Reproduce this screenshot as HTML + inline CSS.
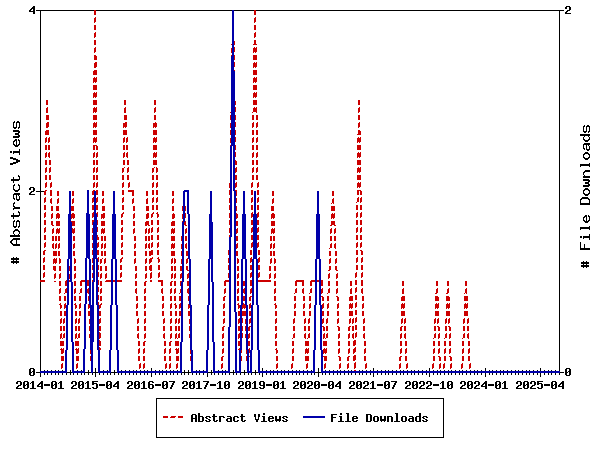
<!DOCTYPE html>
<html><head><meta charset="utf-8"><style>
html,body{margin:0;padding:0;background:#fff;width:600px;height:450px;overflow:hidden}
svg{display:block}
</style></head><body><svg width="600" height="450" viewBox="0 0 600 450" shape-rendering="crispEdges"><path d="M33 6h2v1h-2zM566 6h4v1h-4zM32 7h3v1h-3zM31 8h4v1h-4zM565 7h2v2h-2zM30 9h2v1h-2zM569 7h2v3h-2zM29 10h2v1h-2zM33 9h2v2h-2zM36 10h58v1h-58zM96 10h136v1h-136zM234 10h20v1h-20zM256 10h308v1h-308zM567 10h3v1h-3zM29 11h6v1h-6zM566 11h2v1h-2zM565 12h2v1h-2zM33 12h2v2h-2zM565 13h6v1h-6zM14 121h1v1h-1zM17 121h2v1h-2zM13 122h2v1h-2zM16 122h4v1h-4zM584 125h1v1h-1zM587 125h2v1h-2zM13 123h1v4h-1zM16 123h1v4h-1zM19 123h1v4h-1zM583 126h2v1h-2zM586 126h4v1h-4zM13 127h4v1h-4zM18 127h2v1h-2zM14 128h2v1h-2zM18 128h1v1h-1zM13 130h6v1h-6zM583 127h1v4h-1zM586 127h1v4h-1zM589 127h1v4h-1zM13 131h7v1h-7zM583 131h4v1h-4zM588 131h2v1h-2zM18 132h2v1h-2zM584 132h2v1h-2zM588 132h1v1h-1zM15 133h4v2h-4zM18 135h2v1h-2zM580 134h10v2h-10zM13 136h7v1h-7zM584 136h1v1h-1zM588 136h1v1h-1zM13 137h6v1h-6zM583 137h1v2h-1zM589 137h1v2h-1zM15 139h2v1h-2zM18 139h1v1h-1zM583 139h2v1h-2zM588 139h2v1h-2zM14 140h3v1h-3zM18 140h2v1h-2zM584 140h5v1h-5zM13 141h2v1h-2zM585 141h3v1h-3zM13 142h1v2h-1zM19 141h1v3h-1zM584 143h6v1h-6zM13 144h2v1h-2zM16 141h1v4h-1zM18 144h2v1h-2zM583 144h7v1h-7zM14 145h5v1h-5zM588 145h1v1h-1zM15 146h3v1h-3zM583 145h1v3h-1zM583 148h2v1h-2zM586 145h1v4h-1zM589 146h1v3h-1zM584 149h1v1h-1zM586 149h4v1h-4zM19 149h1v2h-1zM587 150h2v1h-2zM10 151h2v2h-2zM13 151h7v2h-7zM585 152h3v1h-3zM13 153h1v1h-1zM584 153h5v1h-5zM19 153h1v2h-1zM583 154h2v1h-2zM588 154h2v1h-2zM583 155h1v2h-1zM589 155h1v2h-1zM10 157h3v1h-3zM583 157h2v1h-2zM588 157h2v1h-2zM10 158h6v1h-6zM584 158h5v1h-5zM13 159h5v1h-5zM585 159h3v1h-3zM16 160h4v2h-4zM13 162h5v1h-5zM10 163h6v1h-6zM589 163h1v1h-1zM10 164h3v1h-3zM580 164h10v2h-10zM580 166h1v1h-1zM589 166h1v1h-1zM585 170h5v1h-5zM584 171h6v1h-6zM583 172h2v1h-2zM583 173h1v2h-1zM18 175h1v1h-1zM584 175h1v1h-1zM18 176h2v1h-2zM583 176h7v2h-7zM13 177h1v2h-1zM19 177h1v2h-1zM11 179h9v1h-9zM583 179h6v1h-6zM11 180h8v1h-8zM583 180h7v1h-7zM588 181h2v1h-2zM13 181h1v2h-1zM585 182h4v2h-4zM14 184h1v1h-1zM18 184h1v1h-1zM588 184h2v1h-2zM13 185h2v1h-2zM18 185h2v1h-2zM583 185h7v1h-7zM583 186h6v1h-6zM30 187h4v1h-4zM13 186h1v3h-1zM19 186h1v3h-1zM585 188h3v1h-3zM13 189h2v1h-2zM18 189h2v1h-2zM29 188h2v2h-2zM584 189h5v1h-5zM14 190h5v1h-5zM33 188h2v3h-2zM40 11h1v180h-1zM583 190h2v1h-2zM588 190h2v1h-2zM15 191h3v1h-3zM31 191h3v1h-3zM36 191h8v1h-8zM30 192h2v1h-2zM583 191h1v2h-1zM589 191h1v2h-1zM14 193h6v1h-6zM29 193h2v1h-2zM583 193h2v1h-2zM588 193h2v1h-2zM13 194h7v1h-7zM29 194h6v1h-6zM584 194h5v1h-5zM18 195h1v1h-1zM585 195h3v1h-3zM13 195h1v3h-1zM582 197h6v1h-6zM13 198h2v1h-2zM16 195h1v4h-1zM19 196h1v3h-1zM581 198h8v1h-8zM14 199h1v1h-1zM16 199h4v1h-4zM580 199h2v1h-2zM588 199h2v1h-2zM17 200h2v1h-2zM14 202h1v1h-1zM580 200h1v3h-1zM589 200h1v3h-1zM13 203h2v1h-2zM580 203h10v2h-10zM13 204h1v2h-1zM13 206h2v1h-2zM14 207h6v1h-6zM13 208h7v1h-7zM13 209h1v1h-1zM18 211h1v1h-1zM18 212h2v1h-2zM13 213h1v2h-1zM19 213h1v2h-1zM11 215h9v1h-9zM585 215h2v1h-2zM588 215h1v1h-1zM11 216h8v1h-8zM584 216h3v1h-3zM588 216h2v1h-2zM583 217h2v1h-2zM13 217h1v2h-1zM583 218h1v2h-1zM589 217h1v3h-1zM14 220h1v1h-1zM17 220h2v1h-2zM583 220h2v1h-2zM586 217h1v4h-1zM588 220h2v1h-2zM13 221h2v1h-2zM16 221h4v1h-4zM584 221h5v1h-5zM585 222h3v1h-3zM13 222h1v4h-1zM16 222h1v4h-1zM19 222h1v4h-1zM13 226h4v1h-4zM18 226h2v1h-2zM589 226h1v1h-1zM14 227h2v1h-2zM18 227h1v1h-1zM580 227h10v2h-10zM15 229h3v1h-3zM580 229h1v1h-1zM589 229h1v1h-1zM14 230h5v1h-5zM13 231h2v1h-2zM18 231h2v1h-2zM13 232h1v2h-1zM19 232h1v2h-1zM14 234h1v1h-1zM18 234h1v1h-1zM589 234h1v2h-1zM10 235h10v2h-10zM580 236h2v2h-2zM583 236h7v2h-7zM13 238h7v1h-7zM583 238h1v1h-1zM12 239h8v1h-8zM589 238h1v2h-1zM11 240h2v1h-2zM10 241h2v2h-2zM11 243h2v1h-2zM16 240h1v4h-1zM12 244h8v1h-8zM13 245h7v1h-7zM580 242h1v6h-1zM584 244h1v4h-1zM580 248h10v2h-10zM13 257h1v1h-1zM16 257h1v1h-1zM11 258h8v2h-8zM13 260h1v1h-1zM16 260h1v1h-1zM583 261h1v1h-1zM586 261h1v1h-1zM11 261h8v2h-8zM13 263h1v1h-1zM16 263h1v1h-1zM581 262h8v2h-8zM583 264h1v1h-1zM586 264h1v1h-1zM581 265h8v2h-8zM583 267h1v1h-1zM586 267h1v1h-1zM40 192h1v88h-1zM30 368h4v1h-4zM566 368h4v1h-4zM33 369h2v2h-2zM40 282h1v89h-1zM44 370h1v1h-1zM47 370h1v1h-1zM51 370h1v1h-1zM55 370h1v1h-1zM58 370h1v1h-1zM62 370h1v1h-1zM77 370h1v1h-1zM81 370h1v1h-1zM103 370h1v1h-1zM107 370h1v1h-1zM121 370h1v1h-1zM125 370h1v1h-1zM129 370h1v1h-1zM133 370h1v1h-1zM136 370h1v1h-1zM140 370h1v1h-1zM144 370h1v1h-1zM147 370h1v1h-1zM151 368h1v3h-1zM155 370h1v1h-1zM159 370h1v1h-1zM162 370h1v1h-1zM166 370h1v1h-1zM170 370h1v1h-1zM173 370h1v1h-1zM177 370h1v1h-1zM196 370h1v1h-1zM199 370h1v1h-1zM203 370h1v1h-1zM218 370h1v1h-1zM222 370h1v1h-1zM225 370h1v1h-1zM262 368h1v3h-1zM266 370h1v1h-1zM270 370h1v1h-1zM273 370h1v1h-1zM277 370h1v1h-1zM281 370h1v1h-1zM284 370h1v1h-1zM288 370h1v1h-1zM292 370h1v1h-1zM296 370h1v1h-1zM299 370h1v1h-1zM303 370h1v1h-1zM307 370h1v1h-1zM311 370h1v1h-1zM325 370h1v1h-1zM329 370h1v1h-1zM333 370h1v1h-1zM337 370h1v1h-1zM340 370h1v1h-1zM344 370h1v1h-1zM348 370h1v1h-1zM351 370h1v1h-1zM359 370h1v1h-1zM362 370h1v1h-1zM366 370h1v1h-1zM370 370h1v1h-1zM373 368h1v3h-1zM377 370h1v1h-1zM381 370h1v1h-1zM385 370h1v1h-1zM388 370h1v1h-1zM392 370h1v1h-1zM396 370h1v1h-1zM400 370h1v1h-1zM403 370h1v1h-1zM407 370h1v1h-1zM411 370h1v1h-1zM414 370h1v1h-1zM418 370h1v1h-1zM422 370h1v1h-1zM426 370h1v1h-1zM429 368h1v3h-1zM433 370h1v1h-1zM437 370h1v1h-1zM440 370h1v1h-1zM444 370h1v1h-1zM448 370h1v1h-1zM451 370h1v1h-1zM455 370h1v1h-1zM459 370h1v1h-1zM462 370h1v1h-1zM466 370h1v1h-1zM470 370h1v1h-1zM474 370h1v1h-1zM477 370h1v1h-1zM481 370h1v1h-1zM485 368h1v3h-1zM489 370h1v1h-1zM492 370h1v1h-1zM496 370h1v1h-1zM500 370h1v1h-1zM503 370h1v1h-1zM507 370h1v1h-1zM511 370h1v1h-1zM515 370h1v1h-1zM518 370h1v1h-1zM522 370h1v1h-1zM526 370h1v1h-1zM529 370h1v1h-1zM533 370h1v1h-1zM537 370h1v1h-1zM540 368h1v3h-1zM544 370h1v1h-1zM548 370h1v1h-1zM551 370h1v1h-1zM555 370h1v1h-1zM559 11h1v360h-1zM569 369h2v2h-2zM29 369h2v3h-2zM32 371h3v1h-3zM70 370h1v2h-1zM88 370h1v2h-1zM95 368h1v4h-1zM114 370h1v2h-1zM184 370h1v2h-1zM188 370h1v2h-1zM211 370h1v2h-1zM233 370h1v2h-1zM244 370h1v2h-1zM255 370h1v2h-1zM318 368h1v4h-1zM565 369h2v3h-2zM568 371h3v1h-3zM29 372h3v1h-3zM36 372h4v1h-4zM67 372h5v1h-5zM85 372h6v1h-6zM93 372h5v1h-5zM111 372h6v1h-6zM182 372h9v1h-9zM208 372h5v1h-5zM230 372h5v1h-5zM241 372h6v1h-6zM252 372h6v1h-6zM315 372h6v1h-6zM560 372h4v1h-4zM565 372h3v1h-3zM29 373h2v2h-2zM33 372h2v3h-2zM44 373h1v2h-1zM47 373h1v2h-1zM51 373h1v2h-1zM55 373h1v2h-1zM58 373h1v2h-1zM62 373h1v2h-1zM66 373h1v2h-1zM70 373h1v2h-1zM73 373h1v2h-1zM77 373h1v2h-1zM81 373h1v2h-1zM84 373h1v2h-1zM88 373h1v2h-1zM92 373h1v2h-1zM99 373h1v2h-1zM103 373h1v2h-1zM107 373h1v2h-1zM110 373h1v2h-1zM114 373h1v2h-1zM118 373h1v2h-1zM121 373h1v2h-1zM125 373h1v2h-1zM129 373h1v2h-1zM133 373h1v2h-1zM136 373h1v2h-1zM140 373h1v2h-1zM144 373h1v2h-1zM147 373h1v2h-1zM155 373h1v2h-1zM159 373h1v2h-1zM162 373h1v2h-1zM166 373h1v2h-1zM170 373h1v2h-1zM173 373h1v2h-1zM177 373h1v2h-1zM181 373h1v2h-1zM184 373h1v2h-1zM188 373h1v2h-1zM192 373h1v2h-1zM196 373h1v2h-1zM199 373h1v2h-1zM203 373h1v2h-1zM211 373h1v2h-1zM214 373h1v2h-1zM218 373h1v2h-1zM222 373h1v2h-1zM225 373h1v2h-1zM229 373h1v2h-1zM233 373h1v2h-1zM236 373h1v2h-1zM240 373h1v2h-1zM244 373h1v2h-1zM248 373h1v2h-1zM251 373h1v2h-1zM255 373h1v2h-1zM259 373h1v2h-1zM266 373h1v2h-1zM270 373h1v2h-1zM273 373h1v2h-1zM277 373h1v2h-1zM281 373h1v2h-1zM284 373h1v2h-1zM288 373h1v2h-1zM292 373h1v2h-1zM296 373h1v2h-1zM299 373h1v2h-1zM303 373h1v2h-1zM307 373h1v2h-1zM311 373h1v2h-1zM314 373h1v2h-1zM322 373h1v2h-1zM325 373h1v2h-1zM329 373h1v2h-1zM333 373h1v2h-1zM337 373h1v2h-1zM340 373h1v2h-1zM344 373h1v2h-1zM348 373h1v2h-1zM351 373h1v2h-1zM355 373h1v2h-1zM359 373h1v2h-1zM362 373h1v2h-1zM366 373h1v2h-1zM370 373h1v2h-1zM377 373h1v2h-1zM381 373h1v2h-1zM385 373h1v2h-1zM388 373h1v2h-1zM392 373h1v2h-1zM396 373h1v2h-1zM400 373h1v2h-1zM403 373h1v2h-1zM407 373h1v2h-1zM411 373h1v2h-1zM414 373h1v2h-1zM418 373h1v2h-1zM422 373h1v2h-1zM426 373h1v2h-1zM433 373h1v2h-1zM437 373h1v2h-1zM440 373h1v2h-1zM444 373h1v2h-1zM448 373h1v2h-1zM451 373h1v2h-1zM455 373h1v2h-1zM459 373h1v2h-1zM462 373h1v2h-1zM466 373h1v2h-1zM470 373h1v2h-1zM474 373h1v2h-1zM477 373h1v2h-1zM481 373h1v2h-1zM489 373h1v2h-1zM492 373h1v2h-1zM496 373h1v2h-1zM500 373h1v2h-1zM503 373h1v2h-1zM507 373h1v2h-1zM511 373h1v2h-1zM515 373h1v2h-1zM518 373h1v2h-1zM522 373h1v2h-1zM526 373h1v2h-1zM529 373h1v2h-1zM533 373h1v2h-1zM537 373h1v2h-1zM544 373h1v2h-1zM548 373h1v2h-1zM551 373h1v2h-1zM555 373h1v2h-1zM559 373h1v2h-1zM565 373h2v2h-2zM569 372h2v3h-2zM30 375h4v1h-4zM566 375h4v1h-4zM40 373h1v4h-1zM95 373h1v4h-1zM151 373h1v4h-1zM207 373h1v4h-1zM262 373h1v4h-1zM318 373h1v4h-1zM373 373h1v4h-1zM429 373h1v4h-1zM485 373h1v4h-1zM540 373h1v4h-1zM17 381h4v1h-4zM24 381h4v1h-4zM32 381h2v1h-2zM41 381h2v1h-2zM52 381h4v1h-4zM60 381h2v1h-2zM72 381h4v1h-4zM79 381h4v1h-4zM87 381h2v1h-2zM92 381h6v1h-6zM107 381h4v1h-4zM117 381h2v1h-2zM128 381h4v1h-4zM135 381h4v1h-4zM143 381h2v1h-2zM149 381h4v1h-4zM163 381h4v1h-4zM169 381h6v1h-6zM183 381h4v1h-4zM190 381h4v1h-4zM198 381h2v1h-2zM203 381h6v1h-6zM219 381h2v1h-2zM225 381h4v1h-4zM239 381h4v1h-4zM246 381h4v1h-4zM254 381h2v1h-2zM260 381h4v1h-4zM274 381h4v1h-4zM282 381h2v1h-2zM294 381h4v1h-4zM301 381h4v1h-4zM308 381h4v1h-4zM315 381h4v1h-4zM329 381h4v1h-4zM339 381h2v1h-2zM350 381h4v1h-4zM357 381h4v1h-4zM364 381h4v1h-4zM372 381h2v1h-2zM385 381h4v1h-4zM391 381h6v1h-6zM406 381h4v1h-4zM413 381h4v1h-4zM420 381h4v1h-4zM427 381h4v1h-4zM442 381h2v1h-2zM448 381h4v1h-4zM461 381h4v1h-4zM468 381h4v1h-4zM475 381h4v1h-4zM485 381h2v1h-2zM496 381h4v1h-4zM504 381h2v1h-2zM517 381h4v1h-4zM524 381h4v1h-4zM531 381h4v1h-4zM537 381h6v1h-6zM552 381h4v1h-4zM562 381h2v1h-2zM31 382h3v1h-3zM40 382h3v1h-3zM59 382h3v1h-3zM86 382h3v1h-3zM92 382h2v1h-2zM116 382h3v1h-3zM142 382h3v1h-3zM152 382h2v1h-2zM173 382h2v1h-2zM197 382h3v1h-3zM207 382h2v1h-2zM218 382h3v1h-3zM253 382h3v1h-3zM281 382h3v1h-3zM338 382h3v1h-3zM371 382h3v1h-3zM395 382h2v1h-2zM441 382h3v1h-3zM484 382h3v1h-3zM503 382h3v1h-3zM537 382h2v1h-2zM561 382h3v1h-3zM16 382h2v2h-2zM27 382h2v2h-2zM30 383h1v1h-1zM39 383h4v1h-4zM55 382h2v2h-2zM58 383h1v1h-1zM71 382h2v2h-2zM82 382h2v2h-2zM85 383h1v1h-1zM92 383h5v1h-5zM110 382h2v2h-2zM115 383h4v1h-4zM127 382h2v2h-2zM138 382h2v2h-2zM141 383h1v1h-1zM148 382h2v2h-2zM166 382h2v2h-2zM182 382h2v2h-2zM193 382h2v2h-2zM196 383h1v1h-1zM217 383h1v1h-1zM228 382h2v2h-2zM238 382h2v2h-2zM249 382h2v2h-2zM252 383h1v1h-1zM277 382h2v2h-2zM280 383h1v1h-1zM293 382h2v2h-2zM304 382h2v2h-2zM307 382h2v2h-2zM318 382h2v2h-2zM332 382h2v2h-2zM337 383h4v1h-4zM349 382h2v2h-2zM360 382h2v2h-2zM363 382h2v2h-2zM370 383h1v1h-1zM388 382h2v2h-2zM405 382h2v2h-2zM416 382h2v2h-2zM419 382h2v2h-2zM426 382h2v2h-2zM440 383h1v1h-1zM451 382h2v2h-2zM460 382h2v2h-2zM471 382h2v2h-2zM474 382h2v2h-2zM483 383h4v1h-4zM499 382h2v2h-2zM502 383h1v1h-1zM516 382h2v2h-2zM527 382h2v2h-2zM530 382h2v2h-2zM537 383h5v1h-5zM555 382h2v2h-2zM560 383h4v1h-4zM20 382h2v3h-2zM23 382h2v3h-2zM26 384h3v1h-3zM38 384h2v1h-2zM51 382h2v3h-2zM54 384h3v1h-3zM75 382h2v3h-2zM78 382h2v3h-2zM81 384h3v1h-3zM92 384h2v1h-2zM106 382h2v3h-2zM109 384h3v1h-3zM114 384h2v1h-2zM131 382h2v3h-2zM134 382h2v3h-2zM137 384h3v1h-3zM148 384h5v1h-5zM162 382h2v3h-2zM165 384h3v1h-3zM172 383h2v2h-2zM186 382h2v3h-2zM189 382h2v3h-2zM192 384h3v1h-3zM206 383h2v2h-2zM224 382h2v3h-2zM227 384h3v1h-3zM242 382h2v3h-2zM245 382h2v3h-2zM248 384h3v1h-3zM259 382h2v3h-2zM263 382h2v3h-2zM273 382h2v3h-2zM276 384h3v1h-3zM297 382h2v3h-2zM300 382h2v3h-2zM303 384h3v1h-3zM311 382h2v3h-2zM314 382h2v3h-2zM317 384h3v1h-3zM328 382h2v3h-2zM331 384h3v1h-3zM336 384h2v1h-2zM353 382h2v3h-2zM356 382h2v3h-2zM359 384h3v1h-3zM367 382h2v3h-2zM384 382h2v3h-2zM387 384h3v1h-3zM394 383h2v2h-2zM409 382h2v3h-2zM412 382h2v3h-2zM415 384h3v1h-3zM423 382h2v3h-2zM430 382h2v3h-2zM447 382h2v3h-2zM450 384h3v1h-3zM464 382h2v3h-2zM467 382h2v3h-2zM470 384h3v1h-3zM478 382h2v3h-2zM482 384h2v1h-2zM495 382h2v3h-2zM498 384h3v1h-3zM520 382h2v3h-2zM523 382h2v3h-2zM526 384h3v1h-3zM534 382h2v3h-2zM537 384h2v1h-2zM551 382h2v3h-2zM554 384h3v1h-3zM559 384h2v1h-2zM18 385h3v1h-3zM23 385h3v1h-3zM37 385h2v1h-2zM41 384h2v2h-2zM44 384h6v2h-6zM51 385h3v1h-3zM73 385h3v1h-3zM78 385h3v1h-3zM99 384h6v2h-6zM106 385h3v1h-3zM113 385h2v1h-2zM117 384h2v2h-2zM129 385h3v1h-3zM134 385h3v1h-3zM155 384h6v2h-6zM162 385h3v1h-3zM184 385h3v1h-3zM189 385h3v1h-3zM210 384h6v2h-6zM224 385h3v1h-3zM240 385h3v1h-3zM245 385h3v1h-3zM260 385h5v1h-5zM266 384h6v2h-6zM273 385h3v1h-3zM295 385h3v1h-3zM300 385h3v1h-3zM309 385h3v1h-3zM314 385h3v1h-3zM321 384h6v2h-6zM328 385h3v1h-3zM335 385h2v1h-2zM339 384h2v2h-2zM351 385h3v1h-3zM356 385h3v1h-3zM365 385h3v1h-3zM377 384h6v2h-6zM384 385h3v1h-3zM407 385h3v1h-3zM412 385h3v1h-3zM421 385h3v1h-3zM428 385h3v1h-3zM433 384h6v2h-6zM447 385h3v1h-3zM462 385h3v1h-3zM467 385h3v1h-3zM476 385h3v1h-3zM481 385h2v1h-2zM485 384h2v2h-2zM488 384h6v2h-6zM495 385h3v1h-3zM518 385h3v1h-3zM523 385h3v1h-3zM532 385h3v1h-3zM544 384h6v2h-6zM551 385h3v1h-3zM558 385h2v1h-2zM562 384h2v2h-2zM17 386h2v1h-2zM37 386h6v1h-6zM72 386h2v1h-2zM113 386h6v1h-6zM128 386h2v1h-2zM171 385h2v2h-2zM183 386h2v1h-2zM205 385h2v2h-2zM239 386h2v1h-2zM294 386h2v1h-2zM308 386h2v1h-2zM335 386h6v1h-6zM350 386h2v1h-2zM364 386h2v1h-2zM393 385h2v2h-2zM406 386h2v1h-2zM420 386h2v1h-2zM427 386h2v1h-2zM461 386h2v1h-2zM475 386h2v1h-2zM481 386h6v1h-6zM517 386h2v1h-2zM531 386h2v1h-2zM558 386h6v1h-6zM16 387h2v1h-2zM23 386h2v2h-2zM27 385h2v3h-2zM32 383h2v5h-2zM51 386h2v2h-2zM55 385h2v3h-2zM60 383h2v5h-2zM71 387h2v1h-2zM78 386h2v2h-2zM82 385h2v3h-2zM87 383h2v5h-2zM92 387h2v1h-2zM96 384h2v4h-2zM106 386h2v2h-2zM110 385h2v3h-2zM127 387h2v1h-2zM134 386h2v2h-2zM138 385h2v3h-2zM143 383h2v5h-2zM148 385h2v3h-2zM152 385h2v3h-2zM162 386h2v2h-2zM166 385h2v3h-2zM182 387h2v1h-2zM189 386h2v2h-2zM193 385h2v3h-2zM198 383h2v5h-2zM219 383h2v5h-2zM224 386h2v2h-2zM228 385h2v3h-2zM238 387h2v1h-2zM245 386h2v2h-2zM249 385h2v3h-2zM254 383h2v5h-2zM259 387h2v1h-2zM263 386h2v2h-2zM273 386h2v2h-2zM277 385h2v3h-2zM282 383h2v5h-2zM293 387h2v1h-2zM300 386h2v2h-2zM304 385h2v3h-2zM307 387h2v1h-2zM314 386h2v2h-2zM318 385h2v3h-2zM328 386h2v2h-2zM332 385h2v3h-2zM349 387h2v1h-2zM356 386h2v2h-2zM360 385h2v3h-2zM363 387h2v1h-2zM372 383h2v5h-2zM384 386h2v2h-2zM388 385h2v3h-2zM405 387h2v1h-2zM412 386h2v2h-2zM416 385h2v3h-2zM419 387h2v1h-2zM426 387h2v1h-2zM442 383h2v5h-2zM447 386h2v2h-2zM451 385h2v3h-2zM460 387h2v1h-2zM467 386h2v2h-2zM471 385h2v3h-2zM474 387h2v1h-2zM495 386h2v2h-2zM499 385h2v3h-2zM504 383h2v5h-2zM516 387h2v1h-2zM523 386h2v2h-2zM527 385h2v3h-2zM530 387h2v1h-2zM537 387h2v1h-2zM541 384h2v4h-2zM551 386h2v2h-2zM555 385h2v3h-2zM16 388h6v1h-6zM24 388h4v1h-4zM30 388h6v1h-6zM41 387h2v2h-2zM52 388h4v1h-4zM58 388h6v1h-6zM71 388h6v1h-6zM79 388h4v1h-4zM85 388h6v1h-6zM93 388h4v1h-4zM107 388h4v1h-4zM117 387h2v2h-2zM127 388h6v1h-6zM135 388h4v1h-4zM141 388h6v1h-6zM149 388h4v1h-4zM163 388h4v1h-4zM170 387h2v2h-2zM182 388h6v1h-6zM190 388h4v1h-4zM196 388h6v1h-6zM204 387h2v2h-2zM217 388h6v1h-6zM225 388h4v1h-4zM238 388h6v1h-6zM246 388h4v1h-4zM252 388h6v1h-6zM260 388h4v1h-4zM274 388h4v1h-4zM280 388h6v1h-6zM293 388h6v1h-6zM301 388h4v1h-4zM307 388h6v1h-6zM315 388h4v1h-4zM329 388h4v1h-4zM339 387h2v2h-2zM349 388h6v1h-6zM357 388h4v1h-4zM363 388h6v1h-6zM370 388h6v1h-6zM385 388h4v1h-4zM392 387h2v2h-2zM405 388h6v1h-6zM413 388h4v1h-4zM419 388h6v1h-6zM426 388h6v1h-6zM440 388h6v1h-6zM448 388h4v1h-4zM460 388h6v1h-6zM468 388h4v1h-4zM474 388h6v1h-6zM485 387h2v2h-2zM496 388h4v1h-4zM502 388h6v1h-6zM516 388h6v1h-6zM524 388h4v1h-4zM530 388h6v1h-6zM538 388h4v1h-4zM552 388h4v1h-4zM562 387h2v2h-2zM156 398h288v1h-288zM346 413h3v1h-3zM395 413h3v1h-3zM192 414h4v1h-4zM263 413h2v2h-2zM331 414h6v1h-6zM340 413h2v2h-2zM366 414h5v1h-5zM198 413h2v3h-2zM213 414h2v2h-2zM241 414h2v2h-2zM419 413h2v3h-2zM198 416h5v1h-5zM206 416h4v1h-4zM212 416h5v1h-5zM219 416h5v1h-5zM227 416h4v1h-4zM234 416h4v1h-4zM240 416h5v1h-5zM254 414h2v3h-2zM258 414h2v3h-2zM262 416h3v1h-3zM269 416h4v1h-4zM283 416h4v1h-4zM331 415h2v2h-2zM339 416h3v1h-3zM353 416h4v1h-4zM374 416h4v1h-4zM387 416h5v1h-5zM402 416h4v1h-4zM409 416h4v1h-4zM416 416h5v1h-5zM423 416h4v1h-4zM191 415h2v3h-2zM195 415h2v3h-2zM205 417h2v1h-2zM209 417h2v1h-2zM223 417h2v1h-2zM230 417h2v1h-2zM237 417h2v1h-2zM268 417h2v1h-2zM272 417h2v1h-2zM282 417h2v1h-2zM286 417h2v1h-2zM331 417h5v1h-5zM352 417h2v1h-2zM356 417h2v1h-2zM412 417h2v1h-2zM422 417h2v1h-2zM426 417h2v1h-2zM191 418h6v1h-6zM206 418h2v1h-2zM227 418h5v1h-5zM255 417h1v2h-1zM258 417h1v2h-1zM268 418h6v1h-6zM275 416h2v3h-2zM279 416h2v3h-2zM283 418h2v1h-2zM352 418h6v1h-6zM380 416h2v3h-2zM384 416h2v3h-2zM409 418h5v1h-5zM423 418h2v1h-2zM208 419h2v1h-2zM255 419h4v1h-4zM285 419h2v1h-2zM425 419h2v1h-2zM198 417h2v4h-2zM202 417h2v4h-2zM205 420h2v1h-2zM209 420h2v1h-2zM213 417h2v4h-2zM216 420h2v1h-2zM226 419h2v2h-2zM230 419h2v2h-2zM233 417h2v4h-2zM237 420h2v1h-2zM241 417h2v4h-2zM244 420h2v1h-2zM263 417h2v4h-2zM268 419h2v2h-2zM272 420h2v1h-2zM275 419h6v2h-6zM282 420h2v1h-2zM286 420h2v1h-2zM340 417h2v4h-2zM347 414h2v7h-2zM352 419h2v2h-2zM356 420h2v1h-2zM366 415h2v6h-2zM370 415h2v6h-2zM373 417h2v4h-2zM377 417h2v4h-2zM380 419h6v2h-6zM396 414h2v7h-2zM401 417h2v4h-2zM405 417h2v4h-2zM408 419h2v2h-2zM412 419h2v2h-2zM415 417h2v4h-2zM419 417h2v4h-2zM422 420h2v1h-2zM426 420h2v1h-2zM191 419h2v3h-2zM195 419h2v3h-2zM198 421h5v1h-5zM206 421h4v1h-4zM214 421h3v1h-3zM219 417h2v5h-2zM227 421h5v1h-5zM234 421h4v1h-4zM242 421h3v1h-3zM256 420h2v2h-2zM261 421h6v1h-6zM269 421h4v1h-4zM276 421h1v1h-1zM279 421h1v1h-1zM283 421h4v1h-4zM331 418h2v4h-2zM338 421h6v1h-6zM345 421h6v1h-6zM353 421h4v1h-4zM366 421h5v1h-5zM374 421h4v1h-4zM381 421h1v1h-1zM384 421h1v1h-1zM387 417h2v5h-2zM391 417h2v5h-2zM394 421h6v1h-6zM402 421h4v1h-4zM409 421h5v1h-5zM416 421h5v1h-5zM423 421h4v1h-4zM156 399h1v38h-1zM443 399h1v38h-1zM156 437h288v1h-288z" fill="#000"/><path d="M94 10h2v5h-2zM254 10h2v5h-2zM95 17h1v1h-1zM255 17h1v1h-1zM94 18h2v4h-2zM254 18h2v4h-2zM94 22h1v1h-1zM254 22h1v1h-1zM94 25h2v5h-2zM254 25h2v5h-2zM95 32h1v1h-1zM255 32h1v1h-1zM94 33h2v4h-2zM254 33h2v4h-2zM94 37h1v1h-1zM254 37h1v1h-1zM254 40h2v4h-2zM94 40h2v5h-2zM231 44h1v1h-1zM234 41h1v4h-1zM253 44h4v1h-4zM95 47h1v1h-1zM254 47h1v1h-1zM256 47h1v1h-1zM94 48h2v4h-2zM234 47h1v5h-1zM253 48h4v4h-4zM94 52h1v1h-1zM231 48h1v5h-1zM253 52h1v1h-1zM255 52h1v1h-1zM94 55h2v1h-2zM231 55h1v1h-1zM94 56h3v4h-3zM234 55h1v5h-1zM253 55h4v5h-4zM95 62h2v1h-2zM254 62h1v1h-1zM256 62h1v1h-1zM94 63h3v4h-3zM234 62h1v5h-1zM253 63h4v4h-4zM94 67h2v1h-2zM253 67h1v1h-1zM255 67h1v1h-1zM94 70h3v1h-3zM234 70h1v1h-1zM93 71h4v4h-4zM253 70h4v5h-4zM94 77h1v1h-1zM96 77h1v1h-1zM254 77h1v1h-1zM256 77h1v1h-1zM93 78h4v4h-4zM253 78h4v4h-4zM93 82h1v1h-1zM95 82h1v1h-1zM253 82h1v1h-1zM255 82h1v1h-1zM93 85h4v5h-4zM253 85h4v5h-4zM94 92h1v1h-1zM96 92h1v1h-1zM254 92h1v1h-1zM256 92h1v1h-1zM93 93h4v4h-4zM253 93h4v4h-4zM93 97h1v1h-1zM95 97h1v1h-1zM253 97h1v1h-1zM255 97h1v1h-1zM46 100h2v5h-2zM93 100h4v5h-4zM124 100h2v5h-2zM154 100h2v5h-2zM235 101h1v4h-1zM253 100h4v5h-4zM358 100h2v5h-2zM47 107h1v1h-1zM94 107h1v1h-1zM96 107h1v1h-1zM125 107h1v1h-1zM155 107h1v1h-1zM254 107h1v1h-1zM256 107h1v1h-1zM359 107h1v1h-1zM93 108h4v4h-4zM154 108h2v4h-2zM235 107h1v5h-1zM253 108h4v4h-4zM358 108h2v4h-2zM46 108h2v5h-2zM93 112h1v1h-1zM95 112h1v1h-1zM124 108h2v5h-2zM154 112h1v1h-1zM230 112h1v1h-1zM252 112h1v1h-1zM256 112h1v1h-1zM358 112h1v1h-1zM46 115h3v5h-3zM93 115h4v5h-4zM124 115h3v5h-3zM154 115h2v5h-2zM230 115h1v5h-1zM235 115h1v5h-1zM252 115h2v5h-2zM256 115h2v5h-2zM358 115h2v5h-2zM47 122h2v1h-2zM94 122h1v1h-1zM96 122h1v1h-1zM125 122h2v1h-2zM155 122h1v1h-1zM253 122h1v1h-1zM257 122h1v1h-1zM359 122h1v1h-1zM46 123h3v4h-3zM93 123h4v4h-4zM123 123h4v4h-4zM153 123h4v4h-4zM235 122h1v5h-1zM252 123h2v4h-2zM256 123h2v4h-2zM358 123h2v4h-2zM46 127h2v1h-2zM93 127h1v1h-1zM95 127h1v1h-1zM123 127h1v1h-1zM125 127h1v1h-1zM153 127h1v1h-1zM155 127h1v1h-1zM230 123h1v5h-1zM252 127h1v1h-1zM256 127h1v1h-1zM358 127h1v1h-1zM46 130h3v1h-3zM358 130h2v1h-2zM358 131h3v3h-3zM45 131h4v4h-4zM93 130h4v5h-4zM123 130h4v5h-4zM153 130h4v5h-4zM230 130h1v5h-1zM235 130h1v5h-1zM252 130h2v5h-2zM256 130h2v5h-2zM357 134h4v1h-4zM46 137h1v1h-1zM49 137h1v1h-1zM94 137h1v1h-1zM96 137h1v1h-1zM124 137h1v1h-1zM127 137h1v1h-1zM154 137h1v1h-1zM156 137h1v1h-1zM253 137h1v1h-1zM257 137h1v1h-1zM358 137h1v1h-1zM360 137h1v1h-1zM45 138h2v4h-2zM48 138h2v4h-2zM93 138h4v4h-4zM123 138h2v4h-2zM126 138h2v4h-2zM153 138h4v4h-4zM235 137h1v5h-1zM252 138h2v4h-2zM256 138h2v4h-2zM357 138h4v4h-4zM45 142h1v1h-1zM48 142h1v1h-1zM93 142h1v1h-1zM95 142h1v1h-1zM123 142h1v1h-1zM126 142h1v1h-1zM153 142h1v1h-1zM155 142h1v1h-1zM230 138h1v5h-1zM252 142h1v1h-1zM256 142h1v1h-1zM357 142h1v1h-1zM359 142h1v1h-1zM93 145h4v1h-4zM230 145h1v1h-1zM45 145h2v5h-2zM48 145h2v5h-2zM93 146h2v4h-2zM96 146h2v4h-2zM123 145h2v5h-2zM126 145h2v5h-2zM153 145h4v5h-4zM235 145h1v5h-1zM252 145h2v5h-2zM256 145h2v5h-2zM357 145h4v5h-4zM46 152h1v1h-1zM49 152h1v1h-1zM94 152h1v1h-1zM97 152h1v1h-1zM124 152h1v1h-1zM127 152h1v1h-1zM154 152h1v1h-1zM156 152h1v1h-1zM253 152h1v1h-1zM257 152h1v1h-1zM358 152h1v1h-1zM360 152h1v1h-1zM45 153h2v4h-2zM48 153h2v4h-2zM93 153h2v4h-2zM96 153h2v4h-2zM123 153h2v4h-2zM126 153h2v4h-2zM153 153h4v4h-4zM235 152h1v5h-1zM252 153h2v4h-2zM256 153h2v4h-2zM357 153h4v4h-4zM45 157h1v1h-1zM49 157h1v1h-1zM93 157h1v1h-1zM96 157h1v1h-1zM123 157h1v1h-1zM127 157h1v1h-1zM153 157h1v1h-1zM155 157h1v1h-1zM252 157h1v1h-1zM256 157h1v1h-1zM357 157h1v1h-1zM359 157h1v1h-1zM235 160h1v1h-1zM45 160h2v5h-2zM49 160h2v5h-2zM93 160h2v5h-2zM96 160h2v5h-2zM123 160h2v5h-2zM127 160h2v5h-2zM153 160h4v5h-4zM235 161h2v4h-2zM252 160h2v5h-2zM256 160h2v5h-2zM357 160h4v5h-4zM46 167h1v1h-1zM50 167h1v1h-1zM94 167h1v1h-1zM97 167h1v1h-1zM124 167h1v1h-1zM128 167h1v1h-1zM154 167h1v1h-1zM156 167h1v1h-1zM236 167h1v1h-1zM253 167h1v1h-1zM257 167h1v1h-1zM358 167h1v1h-1zM360 167h1v1h-1zM45 168h2v4h-2zM49 168h2v4h-2zM93 168h2v4h-2zM96 168h2v4h-2zM122 168h2v4h-2zM127 168h2v4h-2zM152 168h2v4h-2zM156 168h2v4h-2zM235 168h2v4h-2zM252 168h2v4h-2zM256 168h2v4h-2zM357 168h4v4h-4zM45 172h1v1h-1zM49 172h1v1h-1zM93 172h1v1h-1zM96 172h1v1h-1zM122 172h1v1h-1zM127 172h1v1h-1zM152 172h1v1h-1zM156 172h1v1h-1zM235 172h1v1h-1zM252 172h1v1h-1zM256 172h1v1h-1zM357 172h1v1h-1zM359 172h1v1h-1zM45 175h2v5h-2zM49 175h2v5h-2zM93 175h2v5h-2zM96 175h2v5h-2zM122 175h2v5h-2zM127 175h2v5h-2zM152 175h2v5h-2zM156 175h2v5h-2zM235 175h2v5h-2zM252 175h2v5h-2zM256 175h2v5h-2zM357 175h4v5h-4zM46 182h1v1h-1zM51 182h1v1h-1zM94 182h1v1h-1zM97 182h1v1h-1zM123 182h1v1h-1zM129 182h1v1h-1zM153 182h1v1h-1zM157 182h1v1h-1zM236 182h1v1h-1zM252 182h1v1h-1zM258 182h1v1h-1zM358 182h1v1h-1zM360 182h1v1h-1zM45 183h2v4h-2zM50 183h2v4h-2zM93 183h2v4h-2zM96 183h2v4h-2zM122 183h2v4h-2zM128 183h2v4h-2zM152 183h2v4h-2zM156 183h2v4h-2zM235 183h2v4h-2zM251 183h2v4h-2zM257 183h2v4h-2zM357 183h4v4h-4zM45 187h1v1h-1zM50 187h1v1h-1zM93 187h1v1h-1zM96 187h1v1h-1zM122 187h1v1h-1zM128 187h1v1h-1zM152 187h1v1h-1zM156 187h1v1h-1zM229 183h1v5h-1zM235 187h1v1h-1zM251 187h1v1h-1zM257 187h1v1h-1zM357 187h1v1h-1zM359 187h1v1h-1zM45 190h2v1h-2zM93 190h2v1h-2zM235 190h2v1h-2zM357 190h4v1h-4zM128 190h6v2h-6zM44 191h2v4h-2zM92 191h2v4h-2zM96 190h2v5h-2zM122 190h2v5h-2zM152 190h2v5h-2zM156 190h2v5h-2zM229 190h1v5h-1zM251 190h2v5h-2zM257 190h2v5h-2zM357 191h2v4h-2zM360 191h2v4h-2zM50 190h2v6h-2zM57 191h2v5h-2zM72 191h2v5h-2zM102 191h2v5h-2zM132 192h2v4h-2zM146 191h2v5h-2zM172 191h2v5h-2zM236 191h1v5h-1zM272 191h2v5h-2zM332 191h2v5h-2zM45 197h1v1h-1zM93 197h1v1h-1zM97 197h1v1h-1zM123 197h1v1h-1zM153 197h1v1h-1zM157 197h1v1h-1zM252 197h1v1h-1zM258 197h1v1h-1zM358 197h1v1h-1zM361 197h1v1h-1zM51 198h1v1h-1zM58 198h1v1h-1zM73 198h1v1h-1zM103 198h1v1h-1zM133 198h1v1h-1zM147 198h1v1h-1zM173 198h1v1h-1zM273 198h1v1h-1zM333 198h1v1h-1zM44 198h2v4h-2zM92 198h2v4h-2zM96 198h2v4h-2zM122 198h2v4h-2zM152 198h2v4h-2zM156 198h2v4h-2zM251 198h2v4h-2zM257 198h2v4h-2zM357 198h2v4h-2zM360 198h2v4h-2zM44 202h1v1h-1zM50 199h2v4h-2zM57 199h2v4h-2zM72 199h2v4h-2zM92 202h1v1h-1zM96 202h1v1h-1zM102 199h2v4h-2zM122 202h1v1h-1zM132 199h2v4h-2zM152 202h1v1h-1zM156 202h1v1h-1zM172 199h2v4h-2zM229 198h1v5h-1zM236 198h1v5h-1zM251 202h1v1h-1zM257 202h1v1h-1zM272 199h2v4h-2zM332 199h2v4h-2zM356 202h1v1h-1zM360 202h1v1h-1zM51 203h1v1h-1zM57 203h1v1h-1zM72 203h1v1h-1zM102 203h1v1h-1zM132 203h1v1h-1zM146 199h2v5h-2zM172 203h1v1h-1zM272 203h1v1h-1zM331 203h1v1h-1zM333 203h1v1h-1zM44 205h2v5h-2zM92 205h2v5h-2zM96 205h2v5h-2zM122 205h2v5h-2zM152 205h2v5h-2zM156 205h2v5h-2zM229 205h1v5h-1zM251 205h2v5h-2zM257 205h2v5h-2zM356 205h2v5h-2zM360 205h2v5h-2zM51 206h2v5h-2zM56 206h3v5h-3zM71 206h3v5h-3zM102 206h3v5h-3zM133 206h2v5h-2zM146 206h3v5h-3zM172 206h2v5h-2zM182 206h1v5h-1zM185 206h1v5h-1zM236 206h1v5h-1zM271 206h3v5h-3zM331 206h4v5h-4zM45 212h1v1h-1zM93 212h1v1h-1zM97 212h1v1h-1zM123 212h1v1h-1zM153 212h1v1h-1zM157 212h1v1h-1zM252 212h1v1h-1zM258 212h1v1h-1zM357 212h1v1h-1zM361 212h1v1h-1zM52 213h1v1h-1zM57 213h2v1h-2zM72 213h2v1h-2zM96 213h2v1h-2zM103 213h2v1h-2zM122 213h2v1h-2zM134 213h1v1h-1zM147 213h2v1h-2zM152 213h2v1h-2zM156 213h2v1h-2zM173 213h1v1h-1zM236 213h1v1h-1zM272 213h2v1h-2zM332 213h1v1h-1zM334 213h1v1h-1zM44 213h2v4h-2zM92 213h2v4h-2zM97 214h1v3h-1zM121 214h2v3h-2zM151 214h2v3h-2zM157 214h2v3h-2zM251 213h2v4h-2zM257 213h2v4h-2zM356 213h2v4h-2zM360 213h2v4h-2zM44 217h1v1h-1zM51 214h2v4h-2zM56 214h4v4h-4zM71 214h4v4h-4zM92 217h1v1h-1zM101 214h4v4h-4zM121 217h1v1h-1zM133 214h2v4h-2zM146 214h3v4h-3zM151 217h1v1h-1zM157 217h1v1h-1zM172 214h3v4h-3zM185 213h1v5h-1zM229 213h1v5h-1zM236 214h2v4h-2zM251 217h1v1h-1zM257 217h1v1h-1zM271 214h4v4h-4zM331 214h4v4h-4zM356 217h1v1h-1zM360 217h1v1h-1zM51 218h1v1h-1zM56 218h1v1h-1zM58 218h1v1h-1zM71 218h1v1h-1zM73 218h1v1h-1zM101 218h1v1h-1zM103 218h1v1h-1zM133 218h1v1h-1zM146 218h2v1h-2zM172 218h2v1h-2zM182 214h1v5h-1zM236 218h1v1h-1zM271 218h1v1h-1zM273 218h1v1h-1zM331 218h1v1h-1zM333 218h1v1h-1zM71 221h4v1h-4zM92 220h2v2h-2zM146 221h3v1h-3zM172 221h3v1h-3zM182 221h1v1h-1zM185 221h1v1h-1zM44 220h2v5h-2zM51 221h2v4h-2zM92 222h1v3h-1zM97 220h1v5h-1zM121 220h2v5h-2zM145 222h4v3h-4zM151 220h2v5h-2zM157 220h2v5h-2zM184 222h2v3h-2zM229 220h1v5h-1zM251 220h2v5h-2zM257 220h2v5h-2zM331 221h4v4h-4zM356 220h2v5h-2zM360 220h2v5h-2zM52 225h2v1h-2zM56 221h4v5h-4zM72 222h3v4h-3zM101 221h4v5h-4zM133 221h2v5h-2zM145 225h2v1h-2zM148 225h2v1h-2zM171 222h4v4h-4zM185 225h2v1h-2zM236 221h2v5h-2zM271 221h4v5h-4zM330 225h2v1h-2zM334 225h2v1h-2zM45 227h1v1h-1zM122 227h1v1h-1zM152 227h1v1h-1zM158 227h1v1h-1zM252 227h1v1h-1zM258 227h1v1h-1zM357 227h1v1h-1zM361 227h1v1h-1zM53 228h1v1h-1zM57 228h1v1h-1zM59 228h1v1h-1zM72 228h1v1h-1zM74 228h1v1h-1zM102 228h1v1h-1zM104 228h1v1h-1zM134 228h1v1h-1zM146 228h1v1h-1zM149 228h1v1h-1zM172 228h1v1h-1zM174 228h1v1h-1zM186 228h1v1h-1zM237 228h1v1h-1zM272 228h1v1h-1zM274 228h1v1h-1zM331 228h1v1h-1zM335 228h1v1h-1zM44 228h2v4h-2zM97 227h1v5h-1zM121 228h2v4h-2zM151 228h2v4h-2zM157 228h2v4h-2zM251 228h2v4h-2zM257 228h2v4h-2zM356 228h2v4h-2zM360 228h2v4h-2zM44 232h1v1h-1zM52 229h2v4h-2zM56 229h4v4h-4zM72 229h3v4h-3zM92 228h1v5h-1zM101 229h4v4h-4zM121 232h1v1h-1zM133 229h2v4h-2zM145 229h2v4h-2zM148 229h2v4h-2zM151 232h1v1h-1zM157 232h1v1h-1zM171 229h4v4h-4zM185 229h2v4h-2zM229 228h1v5h-1zM236 229h2v4h-2zM251 232h1v1h-1zM257 232h1v1h-1zM271 229h4v4h-4zM330 229h2v4h-2zM334 229h2v4h-2zM356 232h1v1h-1zM360 232h1v1h-1zM52 233h1v1h-1zM56 233h1v1h-1zM58 233h1v1h-1zM73 233h1v1h-1zM101 233h1v1h-1zM103 233h1v1h-1zM133 233h1v1h-1zM145 233h1v1h-1zM148 233h1v1h-1zM171 233h1v1h-1zM173 233h1v1h-1zM185 233h1v1h-1zM236 233h1v1h-1zM271 233h1v1h-1zM273 233h1v1h-1zM330 233h1v1h-1zM334 233h1v1h-1zM97 235h1v2h-1zM229 235h1v2h-1zM44 235h2v5h-2zM92 235h1v5h-1zM97 237h2v3h-2zM121 235h2v5h-2zM151 235h2v5h-2zM157 235h2v5h-2zM251 235h2v5h-2zM257 235h2v5h-2zM356 235h2v5h-2zM360 235h2v5h-2zM52 236h2v5h-2zM55 236h2v5h-2zM58 236h2v5h-2zM73 236h2v5h-2zM101 236h2v5h-2zM104 236h2v5h-2zM134 236h2v5h-2zM145 236h2v5h-2zM148 236h2v5h-2zM171 236h4v5h-4zM181 236h1v5h-1zM185 236h2v5h-2zM236 236h2v5h-2zM270 236h2v5h-2zM273 236h2v5h-2zM330 236h2v5h-2zM334 236h2v5h-2zM45 242h1v1h-1zM98 242h1v1h-1zM122 242h1v1h-1zM152 242h1v1h-1zM158 242h1v1h-1zM252 242h1v1h-1zM258 242h1v1h-1zM357 242h1v1h-1zM361 242h1v1h-1zM53 243h1v1h-1zM56 243h1v1h-1zM59 243h1v1h-1zM74 243h1v1h-1zM102 243h1v1h-1zM105 243h1v1h-1zM135 243h1v1h-1zM146 243h1v1h-1zM149 243h1v1h-1zM172 243h1v1h-1zM174 243h1v1h-1zM186 243h1v1h-1zM237 243h1v1h-1zM271 243h1v1h-1zM274 243h1v1h-1zM331 243h1v1h-1zM335 243h1v1h-1zM44 243h2v4h-2zM97 243h2v4h-2zM121 243h2v4h-2zM151 243h2v4h-2zM157 243h2v4h-2zM251 243h2v4h-2zM257 243h2v4h-2zM356 243h2v4h-2zM360 243h2v4h-2zM44 247h1v1h-1zM52 244h2v4h-2zM55 244h2v4h-2zM58 244h2v4h-2zM73 244h2v4h-2zM92 243h1v5h-1zM97 247h1v1h-1zM101 244h2v4h-2zM104 244h2v4h-2zM121 247h1v1h-1zM134 244h2v4h-2zM145 244h2v4h-2zM148 244h2v4h-2zM151 247h1v1h-1zM157 247h1v1h-1zM171 244h4v4h-4zM185 244h2v4h-2zM236 244h2v4h-2zM251 247h1v1h-1zM257 247h1v1h-1zM270 244h2v4h-2zM273 244h2v4h-2zM330 244h2v4h-2zM334 244h2v4h-2zM356 247h1v1h-1zM360 247h1v1h-1zM53 248h1v1h-1zM55 248h1v1h-1zM58 248h1v1h-1zM73 248h1v1h-1zM101 248h1v1h-1zM104 248h1v1h-1zM134 248h1v1h-1zM145 248h1v1h-1zM149 248h1v1h-1zM171 248h1v1h-1zM173 248h1v1h-1zM181 244h1v5h-1zM186 248h1v1h-1zM236 248h1v1h-1zM270 248h1v1h-1zM273 248h1v1h-1zM329 248h1v1h-1zM335 248h1v1h-1zM44 250h2v1h-2zM151 250h2v1h-2zM360 250h2v1h-2zM43 251h2v4h-2zM92 250h1v5h-1zM97 250h2v5h-2zM121 250h2v5h-2zM149 251h4v4h-4zM157 250h2v5h-2zM228 250h1v5h-1zM250 250h2v5h-2zM258 250h2v5h-2zM356 250h2v5h-2zM361 251h2v4h-2zM53 251h4v5h-4zM58 251h2v5h-2zM73 251h2v5h-2zM101 251h2v5h-2zM104 251h2v5h-2zM134 251h2v5h-2zM145 251h2v5h-2zM149 255h2v1h-2zM171 251h4v5h-4zM181 251h1v5h-1zM186 251h2v5h-2zM236 251h2v5h-2zM270 251h2v5h-2zM273 251h2v5h-2zM329 251h2v5h-2zM335 251h2v5h-2zM44 257h1v1h-1zM98 257h1v1h-1zM122 257h1v1h-1zM152 257h1v1h-1zM158 257h1v1h-1zM251 257h1v1h-1zM259 257h1v1h-1zM357 257h1v1h-1zM362 257h1v1h-1zM54 258h1v1h-1zM56 258h1v1h-1zM59 258h1v1h-1zM74 258h1v1h-1zM97 258h2v1h-2zM102 258h1v1h-1zM105 258h1v1h-1zM121 258h2v1h-2zM135 258h1v1h-1zM146 258h1v1h-1zM150 258h3v1h-3zM157 258h2v1h-2zM172 258h1v1h-1zM174 258h1v1h-1zM187 258h1v1h-1zM237 258h1v1h-1zM271 258h1v1h-1zM274 258h1v1h-1zM330 258h1v1h-1zM336 258h1v1h-1zM43 258h2v4h-2zM98 259h1v3h-1zM120 259h2v3h-2zM149 259h3v3h-3zM158 259h2v3h-2zM250 258h2v4h-2zM258 258h2v4h-2zM356 258h2v4h-2zM361 258h2v4h-2zM43 262h1v1h-1zM53 259h4v4h-4zM59 259h2v4h-2zM74 259h2v4h-2zM92 258h1v5h-1zM100 259h2v4h-2zM104 259h2v4h-2zM120 262h1v1h-1zM134 259h2v4h-2zM145 259h2v4h-2zM149 262h2v1h-2zM158 262h1v1h-1zM171 259h2v4h-2zM174 259h2v4h-2zM186 259h2v4h-2zM228 258h1v5h-1zM237 259h2v4h-2zM250 262h1v1h-1zM258 262h1v1h-1zM270 259h2v4h-2zM274 259h2v4h-2zM329 259h2v4h-2zM335 259h2v4h-2zM356 262h1v1h-1zM361 262h1v1h-1zM53 263h1v1h-1zM55 263h1v1h-1zM59 263h1v1h-1zM74 263h1v1h-1zM100 263h1v1h-1zM104 263h1v1h-1zM134 263h1v1h-1zM145 263h1v1h-1zM149 263h1v1h-1zM171 263h1v1h-1zM174 263h1v1h-1zM181 259h1v5h-1zM186 263h1v1h-1zM237 263h1v1h-1zM270 263h1v1h-1zM274 263h1v1h-1zM329 263h1v1h-1zM335 263h1v1h-1zM150 265h2v1h-2zM43 265h2v5h-2zM53 266h3v4h-3zM92 265h1v5h-1zM98 265h1v5h-1zM120 265h2v5h-2zM149 266h3v4h-3zM158 265h2v5h-2zM186 266h2v4h-2zM228 265h1v5h-1zM250 265h2v5h-2zM258 265h2v5h-2zM329 266h2v4h-2zM335 266h2v4h-2zM356 265h2v5h-2zM361 265h2v5h-2zM54 270h2v1h-2zM59 266h2v5h-2zM69 266h1v5h-1zM74 266h2v5h-2zM100 266h2v5h-2zM105 266h2v5h-2zM135 266h2v5h-2zM145 266h2v5h-2zM150 270h2v1h-2zM171 266h2v5h-2zM174 266h2v5h-2zM180 266h2v5h-2zM187 270h2v1h-2zM237 266h2v5h-2zM269 266h2v5h-2zM274 266h2v5h-2zM328 270h2v1h-2zM336 270h2v1h-2zM44 272h1v1h-1zM121 272h1v1h-1zM151 272h1v1h-1zM159 272h1v1h-1zM251 272h1v1h-1zM259 272h1v1h-1zM356 272h1v1h-1zM362 272h1v1h-1zM55 273h1v1h-1zM60 273h1v1h-1zM75 273h1v1h-1zM101 273h1v1h-1zM106 273h1v1h-1zM136 273h1v1h-1zM146 273h1v1h-1zM172 273h1v1h-1zM175 273h1v1h-1zM181 273h1v1h-1zM188 273h1v1h-1zM238 273h1v1h-1zM270 273h1v1h-1zM275 273h1v1h-1zM329 273h1v1h-1zM337 273h1v1h-1zM43 273h2v4h-2zM98 272h1v5h-1zM120 273h2v4h-2zM158 273h2v4h-2zM250 273h2v4h-2zM258 273h2v4h-2zM355 273h2v4h-2zM361 273h2v4h-2zM43 277h1v1h-1zM54 274h2v4h-2zM59 274h2v4h-2zM74 274h2v4h-2zM92 273h1v5h-1zM100 274h2v4h-2zM105 274h2v4h-2zM120 277h1v1h-1zM135 274h2v4h-2zM145 274h2v4h-2zM150 273h2v5h-2zM158 277h1v1h-1zM171 274h2v4h-2zM174 274h2v4h-2zM180 274h2v4h-2zM187 274h2v4h-2zM228 273h1v5h-1zM237 274h2v4h-2zM250 277h1v1h-1zM258 277h1v1h-1zM269 274h2v4h-2zM274 274h2v4h-2zM328 274h2v4h-2zM336 274h2v4h-2zM355 277h1v1h-1zM361 277h1v1h-1zM54 278h1v1h-1zM59 278h1v1h-1zM69 274h1v5h-1zM74 278h1v1h-1zM100 278h1v1h-1zM105 278h1v1h-1zM135 278h1v1h-1zM145 278h1v1h-1zM150 278h1v1h-1zM171 278h1v1h-1zM174 278h1v1h-1zM180 278h1v1h-1zM187 278h1v1h-1zM237 278h1v1h-1zM269 278h1v1h-1zM274 278h1v1h-1zM328 278h1v1h-1zM336 278h1v1h-1zM66 280h1v1h-1zM81 280h4v1h-4zM106 280h5v1h-5zM225 280h4v1h-4zM296 280h8v1h-8zM311 280h4v1h-4zM40 280h5v2h-5zM54 281h2v1h-2zM69 280h1v2h-1zM80 281h5v1h-5zM92 280h1v2h-1zM105 281h6v1h-6zM113 280h2v2h-2zM117 280h5v2h-5zM145 281h2v1h-2zM150 280h2v2h-2zM158 280h5v2h-5zM171 281h2v1h-2zM180 281h2v1h-2zM224 281h5v1h-5zM258 280h13v2h-13zM295 281h9v1h-9zM310 281h5v1h-5zM317 280h2v2h-2zM98 280h1v5h-1zM355 280h2v5h-2zM59 281h2v5h-2zM65 281h2v5h-2zM74 281h2v5h-2zM80 282h2v4h-2zM87 280h2v6h-2zM100 281h2v5h-2zM135 281h2v5h-2zM144 282h2v4h-2zM161 282h2v4h-2zM170 282h2v4h-2zM174 281h2v5h-2zM180 282h1v4h-1zM187 281h2v5h-2zM224 282h2v4h-2zM237 281h2v5h-2zM243 281h2v5h-2zM250 280h2v6h-2zM274 281h2v5h-2zM295 282h2v4h-2zM302 282h2v4h-2zM310 282h2v4h-2zM321 280h2v6h-2zM328 281h2v5h-2zM336 281h2v5h-2zM350 281h2v5h-2zM361 280h2v6h-2zM402 281h2v5h-2zM436 281h2v5h-2zM447 281h2v5h-2zM465 281h2v5h-2zM356 287h1v1h-1zM60 288h1v1h-1zM66 288h1v1h-1zM75 288h1v1h-1zM81 288h1v1h-1zM88 288h1v1h-1zM101 288h1v1h-1zM136 288h1v1h-1zM145 288h1v1h-1zM162 288h1v1h-1zM171 288h1v1h-1zM175 288h1v1h-1zM188 288h1v1h-1zM225 288h1v1h-1zM238 288h1v1h-1zM244 288h1v1h-1zM251 288h1v1h-1zM275 288h1v1h-1zM296 288h1v1h-1zM303 288h1v1h-1zM311 288h1v1h-1zM322 288h1v1h-1zM329 288h1v1h-1zM337 288h1v1h-1zM351 288h1v1h-1zM362 288h1v1h-1zM403 288h1v1h-1zM437 288h1v1h-1zM448 288h1v1h-1zM466 288h1v1h-1zM98 287h1v5h-1zM355 288h2v4h-2zM59 289h2v4h-2zM65 289h2v4h-2zM74 289h2v4h-2zM80 289h2v4h-2zM87 289h2v4h-2zM100 289h2v4h-2zM135 289h2v4h-2zM144 289h2v4h-2zM161 289h2v4h-2zM170 289h2v4h-2zM174 289h2v4h-2zM180 289h1v4h-1zM187 289h2v4h-2zM224 289h2v4h-2zM237 289h2v4h-2zM243 289h2v4h-2zM250 289h2v4h-2zM274 289h2v4h-2zM295 289h2v4h-2zM302 289h2v4h-2zM310 289h2v4h-2zM321 289h2v4h-2zM328 289h2v4h-2zM336 289h2v4h-2zM355 292h1v1h-1zM361 289h2v4h-2zM436 289h2v4h-2zM447 289h2v4h-2zM465 289h2v4h-2zM59 293h1v1h-1zM64 293h1v1h-1zM74 293h1v1h-1zM79 293h1v1h-1zM88 293h1v1h-1zM100 293h1v1h-1zM136 293h1v1h-1zM144 293h1v1h-1zM162 293h1v1h-1zM170 293h1v1h-1zM174 293h1v1h-1zM179 293h1v1h-1zM188 293h1v1h-1zM224 293h1v1h-1zM237 293h1v1h-1zM244 293h1v1h-1zM250 293h1v1h-1zM274 293h1v1h-1zM294 293h1v1h-1zM303 293h1v1h-1zM309 293h1v1h-1zM321 293h1v1h-1zM327 293h1v1h-1zM336 293h1v1h-1zM350 289h2v5h-2zM362 293h1v1h-1zM402 289h2v5h-2zM435 293h2v1h-2zM446 293h2v1h-2zM464 293h1v1h-1zM466 293h1v1h-1zM224 296h2v1h-2zM250 296h2v1h-2zM321 296h2v1h-2zM336 296h2v1h-2zM350 296h3v1h-3zM402 296h3v1h-3zM435 296h3v1h-3zM446 296h3v1h-3zM98 295h1v5h-1zM355 295h2v5h-2zM59 296h2v5h-2zM64 296h2v5h-2zM74 296h2v5h-2zM79 296h2v5h-2zM88 296h1v5h-1zM100 296h2v5h-2zM136 296h2v5h-2zM144 296h2v5h-2zM162 296h2v5h-2zM170 296h2v5h-2zM174 296h2v5h-2zM179 296h2v5h-2zM188 296h1v5h-1zM223 297h2v4h-2zM237 296h2v5h-2zM243 296h2v5h-2zM249 297h2v4h-2zM274 296h2v5h-2zM294 296h2v5h-2zM303 296h2v5h-2zM309 296h2v5h-2zM322 297h2v4h-2zM327 296h2v5h-2zM337 297h2v4h-2zM349 297h4v4h-4zM362 296h2v5h-2zM401 297h4v4h-4zM435 297h4v4h-4zM446 297h4v4h-4zM464 296h4v5h-4zM356 302h1v1h-1zM60 303h1v1h-1zM65 303h1v1h-1zM75 303h1v1h-1zM80 303h1v1h-1zM101 303h1v1h-1zM137 303h1v1h-1zM145 303h1v1h-1zM163 303h1v1h-1zM171 303h1v1h-1zM175 303h1v1h-1zM180 303h1v1h-1zM224 303h1v1h-1zM238 303h1v1h-1zM243 303h1v1h-1zM250 303h1v1h-1zM275 303h1v1h-1zM295 303h1v1h-1zM304 303h1v1h-1zM310 303h1v1h-1zM323 303h1v1h-1zM328 303h1v1h-1zM338 303h1v1h-1zM350 303h1v1h-1zM352 303h1v1h-1zM363 303h1v1h-1zM402 303h1v1h-1zM404 303h1v1h-1zM436 303h1v1h-1zM438 303h1v1h-1zM447 303h1v1h-1zM449 303h1v1h-1zM465 303h1v1h-1zM467 303h1v1h-1zM59 304h2v1h-2zM74 304h2v1h-2zM88 304h1v1h-1zM98 302h1v3h-1zM100 304h2v1h-2zM174 304h2v1h-2zM188 304h1v1h-1zM237 304h2v1h-2zM243 304h2v1h-2zM274 304h2v1h-2zM355 303h2v4h-2zM60 305h2v3h-2zM64 304h2v4h-2zM75 305h2v3h-2zM79 304h2v4h-2zM88 305h2v3h-2zM99 305h2v3h-2zM136 304h2v4h-2zM144 304h2v4h-2zM162 304h2v4h-2zM170 304h2v4h-2zM175 305h2v3h-2zM179 304h2v4h-2zM188 305h2v3h-2zM223 304h2v4h-2zM238 305h2v3h-2zM242 305h4v3h-4zM249 304h2v4h-2zM275 305h2v3h-2zM294 304h2v4h-2zM303 304h2v4h-2zM309 304h2v4h-2zM322 304h2v4h-2zM327 304h2v4h-2zM337 304h2v4h-2zM349 304h4v4h-4zM355 307h1v1h-1zM362 304h2v4h-2zM401 304h4v4h-4zM435 304h4v4h-4zM446 304h4v4h-4zM464 304h4v4h-4zM60 308h1v1h-1zM64 308h1v1h-1zM75 308h1v1h-1zM79 308h1v1h-1zM88 308h1v1h-1zM99 308h1v1h-1zM136 308h1v1h-1zM144 308h1v1h-1zM162 308h1v1h-1zM170 308h1v1h-1zM175 308h1v1h-1zM179 308h1v1h-1zM188 308h1v1h-1zM223 308h1v1h-1zM238 308h1v1h-1zM242 308h1v1h-1zM244 308h1v1h-1zM249 308h1v1h-1zM275 308h1v1h-1zM294 308h1v1h-1zM303 308h1v1h-1zM309 308h1v1h-1zM322 308h1v1h-1zM327 308h1v1h-1zM337 308h1v1h-1zM349 308h1v1h-1zM351 308h1v1h-1zM362 308h1v1h-1zM401 308h1v1h-1zM403 308h1v1h-1zM435 308h1v1h-1zM437 308h1v1h-1zM446 308h1v1h-1zM448 308h1v1h-1zM464 308h1v1h-1zM466 308h1v1h-1zM355 310h2v5h-2zM60 311h2v5h-2zM64 311h2v5h-2zM75 311h2v5h-2zM79 311h2v5h-2zM88 311h2v5h-2zM99 311h2v5h-2zM136 311h2v5h-2zM144 311h2v5h-2zM162 311h2v5h-2zM170 311h2v5h-2zM175 311h2v5h-2zM179 311h2v5h-2zM188 311h2v5h-2zM223 311h2v5h-2zM238 311h2v5h-2zM242 311h4v5h-4zM249 311h2v5h-2zM275 311h2v5h-2zM294 311h2v5h-2zM303 311h2v5h-2zM309 311h2v5h-2zM322 311h2v5h-2zM327 311h2v5h-2zM337 311h2v5h-2zM349 311h4v5h-4zM362 311h2v5h-2zM401 311h4v5h-4zM435 311h4v5h-4zM446 311h4v5h-4zM464 311h4v5h-4zM356 317h1v1h-1zM61 318h1v1h-1zM64 318h1v1h-1zM76 318h1v1h-1zM79 318h1v1h-1zM100 318h1v1h-1zM138 318h1v1h-1zM145 318h1v1h-1zM164 318h1v1h-1zM171 318h1v1h-1zM176 318h1v1h-1zM179 318h1v1h-1zM224 318h1v1h-1zM239 318h1v1h-1zM250 318h1v1h-1zM276 318h1v1h-1zM294 318h1v1h-1zM305 318h1v1h-1zM309 318h1v1h-1zM323 318h1v1h-1zM327 318h1v1h-1zM338 318h1v1h-1zM350 318h1v1h-1zM353 318h1v1h-1zM364 318h1v1h-1zM402 318h1v1h-1zM405 318h1v1h-1zM435 318h1v1h-1zM438 318h1v1h-1zM446 318h1v1h-1zM449 318h1v1h-1zM464 318h1v1h-1zM468 318h1v1h-1zM355 318h2v4h-2zM60 319h2v4h-2zM63 319h2v4h-2zM75 319h2v4h-2zM78 319h2v4h-2zM99 319h2v4h-2zM137 319h2v4h-2zM144 319h2v4h-2zM163 319h2v4h-2zM170 319h2v4h-2zM175 319h2v4h-2zM178 319h2v4h-2zM223 319h2v4h-2zM238 319h2v4h-2zM242 318h1v5h-1zM249 319h2v4h-2zM275 319h2v4h-2zM293 319h2v4h-2zM304 319h2v4h-2zM308 319h2v4h-2zM322 319h2v4h-2zM326 319h2v4h-2zM337 319h2v4h-2zM349 319h2v4h-2zM352 319h2v4h-2zM355 322h1v1h-1zM363 319h2v4h-2zM401 319h2v4h-2zM404 319h2v4h-2zM434 319h2v4h-2zM437 319h2v4h-2zM445 319h2v4h-2zM448 319h2v4h-2zM463 319h2v4h-2zM467 319h2v4h-2zM60 323h1v1h-1zM63 323h1v1h-1zM75 323h1v1h-1zM78 323h1v1h-1zM89 319h1v5h-1zM99 323h1v1h-1zM137 323h1v1h-1zM144 323h1v1h-1zM163 323h1v1h-1zM170 323h1v1h-1zM175 323h1v1h-1zM178 323h1v1h-1zM189 319h1v5h-1zM223 323h1v1h-1zM238 323h1v1h-1zM245 319h1v5h-1zM249 323h1v1h-1zM275 323h1v1h-1zM293 323h1v1h-1zM304 323h1v1h-1zM308 323h1v1h-1zM322 323h1v1h-1zM326 323h1v1h-1zM337 323h1v1h-1zM349 323h1v1h-1zM352 323h1v1h-1zM363 323h1v1h-1zM401 323h1v1h-1zM404 323h1v1h-1zM434 323h1v1h-1zM437 323h1v1h-1zM445 323h1v1h-1zM448 323h1v1h-1zM463 323h1v1h-1zM467 323h1v1h-1zM223 326h2v1h-2zM249 326h2v1h-2zM322 326h2v1h-2zM337 326h2v1h-2zM349 326h2v1h-2zM401 326h2v1h-2zM437 326h2v1h-2zM448 326h2v1h-2zM355 325h2v5h-2zM60 326h2v5h-2zM63 326h2v5h-2zM75 326h2v5h-2zM78 326h2v5h-2zM89 326h1v5h-1zM99 326h2v5h-2zM137 326h2v5h-2zM144 326h2v5h-2zM163 326h2v5h-2zM170 326h2v5h-2zM175 326h2v5h-2zM178 326h2v5h-2zM189 326h1v5h-1zM222 327h2v4h-2zM238 326h2v5h-2zM242 326h1v5h-1zM245 326h1v5h-1zM248 327h2v4h-2zM275 326h2v5h-2zM293 326h2v5h-2zM304 326h2v5h-2zM308 326h2v5h-2zM323 327h2v4h-2zM326 326h2v5h-2zM338 327h2v4h-2zM348 327h2v4h-2zM352 326h2v5h-2zM363 326h2v5h-2zM400 327h2v4h-2zM404 326h2v5h-2zM434 326h2v5h-2zM438 327h2v4h-2zM445 326h2v5h-2zM449 327h2v4h-2zM463 326h2v5h-2zM467 326h2v5h-2zM99 332h1v1h-1zM356 332h1v1h-1zM61 333h1v1h-1zM64 333h1v1h-1zM76 333h1v1h-1zM79 333h1v1h-1zM138 333h1v1h-1zM145 333h1v1h-1zM164 333h1v1h-1zM171 333h1v1h-1zM176 333h1v1h-1zM179 333h1v1h-1zM223 333h1v1h-1zM239 333h1v1h-1zM249 333h1v1h-1zM276 333h1v1h-1zM294 333h1v1h-1zM305 333h1v1h-1zM309 333h1v1h-1zM324 333h1v1h-1zM327 333h1v1h-1zM339 333h1v1h-1zM349 333h1v1h-1zM353 333h1v1h-1zM364 333h1v1h-1zM401 333h1v1h-1zM405 333h1v1h-1zM435 333h1v1h-1zM439 333h1v1h-1zM446 333h1v1h-1zM450 333h1v1h-1zM464 333h1v1h-1zM468 333h1v1h-1zM355 333h2v4h-2zM60 334h2v4h-2zM63 334h2v4h-2zM75 334h2v4h-2zM78 334h2v4h-2zM89 334h1v4h-1zM99 333h2v5h-2zM137 334h2v4h-2zM144 334h2v4h-2zM163 334h2v4h-2zM170 334h2v4h-2zM175 334h2v4h-2zM178 334h2v4h-2zM189 334h1v4h-1zM222 334h2v4h-2zM238 334h2v4h-2zM242 333h1v5h-1zM245 334h1v4h-1zM248 334h2v4h-2zM275 334h2v4h-2zM293 334h2v4h-2zM304 334h2v4h-2zM308 334h2v4h-2zM323 334h2v4h-2zM326 334h2v4h-2zM338 334h2v4h-2zM348 334h2v4h-2zM352 334h2v4h-2zM355 337h1v1h-1zM363 334h2v4h-2zM400 334h2v4h-2zM404 334h2v4h-2zM434 334h2v4h-2zM438 334h2v4h-2zM445 334h2v4h-2zM449 334h2v4h-2zM463 334h2v4h-2zM467 334h2v4h-2zM60 338h1v1h-1zM62 338h1v1h-1zM75 338h1v1h-1zM77 338h1v1h-1zM99 338h1v1h-1zM138 338h1v1h-1zM144 338h1v1h-1zM164 338h1v1h-1zM170 338h1v1h-1zM175 338h1v1h-1zM177 338h1v1h-1zM222 338h1v1h-1zM238 338h1v1h-1zM248 338h1v1h-1zM275 338h1v1h-1zM292 338h1v1h-1zM305 338h1v1h-1zM307 338h1v1h-1zM323 338h1v1h-1zM325 338h1v1h-1zM338 338h1v1h-1zM348 338h1v1h-1zM353 338h1v1h-1zM364 338h1v1h-1zM400 338h1v1h-1zM405 338h1v1h-1zM433 338h1v1h-1zM438 338h1v1h-1zM444 338h1v1h-1zM449 338h1v1h-1zM462 338h1v1h-1zM468 338h1v1h-1zM99 340h1v1h-1zM354 340h2v1h-2zM144 341h2v1h-2zM170 341h2v1h-2zM353 341h3v4h-3zM60 341h4v5h-4zM75 341h4v5h-4zM99 341h2v5h-2zM138 341h2v5h-2zM143 342h2v4h-2zM164 341h2v5h-2zM169 342h2v4h-2zM175 341h4v5h-4zM222 341h2v5h-2zM238 341h2v5h-2zM248 341h2v5h-2zM275 341h2v5h-2zM292 341h2v5h-2zM305 341h4v5h-4zM323 341h4v5h-4zM338 341h2v5h-2zM348 341h2v5h-2zM353 345h2v1h-2zM364 341h2v5h-2zM400 341h2v5h-2zM405 341h2v5h-2zM433 341h2v5h-2zM438 341h2v5h-2zM444 341h2v5h-2zM449 341h2v5h-2zM462 341h2v5h-2zM468 341h2v5h-2zM99 347h1v1h-1zM355 347h1v1h-1zM61 348h1v1h-1zM63 348h1v1h-1zM76 348h1v1h-1zM78 348h1v1h-1zM139 348h1v1h-1zM144 348h1v1h-1zM165 348h1v1h-1zM170 348h1v1h-1zM176 348h1v1h-1zM178 348h1v1h-1zM223 348h1v1h-1zM239 348h1v1h-1zM249 348h1v1h-1zM276 348h1v1h-1zM293 348h1v1h-1zM306 348h1v1h-1zM308 348h1v1h-1zM324 348h1v1h-1zM326 348h1v1h-1zM339 348h1v1h-1zM349 348h1v1h-1zM354 348h2v1h-2zM365 348h1v1h-1zM401 348h1v1h-1zM406 348h1v1h-1zM434 348h1v1h-1zM439 348h1v1h-1zM445 348h1v1h-1zM450 348h1v1h-1zM463 348h1v1h-1zM469 348h1v1h-1zM60 349h4v1h-4zM75 349h4v1h-4zM99 348h2v2h-2zM175 349h4v1h-4zM238 349h2v1h-2zM248 349h2v1h-2zM275 349h2v1h-2zM353 349h3v3h-3zM61 350h3v3h-3zM76 350h3v3h-3zM138 349h2v4h-2zM143 349h2v4h-2zM164 349h2v4h-2zM169 349h2v4h-2zM176 350h3v3h-3zM222 349h2v4h-2zM241 350h1v3h-1zM249 350h1v3h-1zM276 350h2v3h-2zM292 349h2v4h-2zM305 349h4v4h-4zM323 349h4v4h-4zM338 349h2v4h-2zM348 349h2v4h-2zM353 352h2v1h-2zM364 349h2v4h-2zM400 349h2v4h-2zM405 349h2v4h-2zM433 349h2v4h-2zM438 349h2v4h-2zM444 349h2v4h-2zM449 349h2v4h-2zM462 349h2v4h-2zM468 349h2v4h-2zM61 353h2v1h-2zM76 353h2v1h-2zM90 350h1v4h-1zM138 353h1v1h-1zM143 353h1v1h-1zM164 353h1v1h-1zM169 353h1v1h-1zM176 353h2v1h-2zM190 350h1v4h-1zM222 353h1v1h-1zM246 350h1v4h-1zM276 353h1v1h-1zM292 353h1v1h-1zM305 353h1v1h-1zM307 353h1v1h-1zM323 353h1v1h-1zM325 353h1v1h-1zM338 353h1v1h-1zM348 353h1v1h-1zM353 353h1v1h-1zM364 353h1v1h-1zM400 353h1v1h-1zM405 353h1v1h-1zM433 353h1v1h-1zM438 353h1v1h-1zM444 353h1v1h-1zM449 353h1v1h-1zM462 353h1v1h-1zM468 353h1v1h-1zM354 355h2v1h-2zM222 356h2v1h-2zM249 356h1v1h-1zM323 356h4v1h-4zM338 356h2v1h-2zM348 356h2v1h-2zM400 356h2v1h-2zM438 356h2v1h-2zM449 356h2v1h-2zM353 356h3v4h-3zM61 356h3v5h-3zM76 356h3v5h-3zM90 356h1v5h-1zM138 356h2v5h-2zM143 356h2v5h-2zM164 356h2v5h-2zM169 356h2v5h-2zM176 356h3v5h-3zM190 356h1v5h-1zM221 357h2v4h-2zM241 356h1v5h-1zM246 356h1v5h-1zM276 356h2v5h-2zM292 356h2v5h-2zM305 356h4v5h-4zM324 357h3v4h-3zM339 357h2v4h-2zM347 357h2v4h-2zM353 360h2v1h-2zM364 356h2v5h-2zM399 357h2v4h-2zM405 356h2v5h-2zM433 356h2v5h-2zM439 357h2v4h-2zM444 356h2v5h-2zM450 357h2v4h-2zM462 356h2v5h-2zM468 356h2v5h-2zM355 362h1v1h-1zM62 363h1v1h-1zM77 363h1v1h-1zM140 363h1v1h-1zM144 363h1v1h-1zM166 363h1v1h-1zM170 363h1v1h-1zM177 363h1v1h-1zM222 363h1v1h-1zM277 363h1v1h-1zM292 363h1v1h-1zM307 363h1v1h-1zM325 363h1v1h-1zM340 363h1v1h-1zM348 363h1v1h-1zM366 363h1v1h-1zM400 363h1v1h-1zM407 363h1v1h-1zM433 363h1v1h-1zM440 363h1v1h-1zM444 363h1v1h-1zM451 363h1v1h-1zM462 363h1v1h-1zM470 363h1v1h-1zM61 364h2v4h-2zM76 364h2v4h-2zM139 364h2v4h-2zM143 364h2v4h-2zM165 364h2v4h-2zM169 364h2v4h-2zM176 364h2v4h-2zM221 364h2v4h-2zM276 364h2v4h-2zM291 364h2v4h-2zM306 364h2v4h-2zM324 364h2v4h-2zM339 364h2v4h-2zM347 364h2v4h-2zM354 363h2v5h-2zM365 364h2v4h-2zM399 364h2v4h-2zM406 364h2v4h-2zM432 364h2v4h-2zM439 364h2v4h-2zM443 364h2v4h-2zM450 364h2v4h-2zM461 364h2v4h-2zM469 364h2v4h-2zM61 368h1v1h-1zM76 368h1v1h-1zM139 368h1v1h-1zM143 368h1v1h-1zM165 368h1v1h-1zM169 368h1v1h-1zM176 368h1v1h-1zM221 368h1v1h-1zM276 368h1v1h-1zM291 368h1v1h-1zM306 368h1v1h-1zM324 368h1v1h-1zM339 368h1v1h-1zM347 368h1v1h-1zM354 368h1v1h-1zM365 368h1v1h-1zM399 368h1v1h-1zM406 368h1v1h-1zM432 368h1v1h-1zM439 368h1v1h-1zM443 368h1v1h-1zM450 368h1v1h-1zM461 368h1v1h-1zM469 368h1v1h-1zM354 370h2v1h-2zM171 416h5v1h-5zM163 416h5v2h-5zM170 417h5v1h-5zM178 416h5v2h-5z" fill="#cc0000"/><path d="M232 10h2v46h-2zM231 56h3v15h-3zM231 71h4v75h-4zM184 190h5v1h-5zM233 146h2v45h-2zM183 191h6v1h-6zM87 190h2v23h-2zM69 191h2v23h-2zM86 213h3v1h-3zM94 191h2v23h-2zM113 191h2v23h-2zM187 192h2v22h-2zM210 191h2v23h-2zM243 191h2v23h-2zM254 191h2v23h-2zM317 191h2v23h-2zM68 214h3v8h-3zM94 214h3v8h-3zM183 192h2v30h-2zM209 214h3v8h-3zM230 146h2v91h-2zM86 214h4v44h-4zM68 222h4v37h-4zM88 258h2v1h-2zM93 222h4v37h-4zM112 214h4v45h-4zM188 214h2v45h-2zM209 222h4v37h-4zM242 214h4v45h-4zM253 214h4v45h-4zM316 214h4v45h-4zM70 259h2v23h-2zM93 259h2v23h-2zM182 222h2v60h-2zM211 259h2v23h-2zM85 258h2v46h-2zM67 259h2v46h-2zM89 259h2v46h-2zM92 282h2v23h-2zM96 259h2v46h-2zM111 259h2v46h-2zM115 259h2v46h-2zM189 259h2v46h-2zM208 259h2v46h-2zM241 259h2v46h-2zM245 259h2v46h-2zM252 259h2v46h-2zM256 259h2v46h-2zM315 259h2v46h-2zM319 259h2v46h-2zM234 191h2v121h-2zM229 237h2v90h-2zM71 282h2v60h-2zM90 305h4v37h-4zM181 282h2v60h-2zM212 282h2v60h-2zM84 304h2v45h-2zM66 305h2v45h-2zM90 342h3v8h-3zM97 305h2v45h-2zM110 305h2v45h-2zM116 305h2v45h-2zM190 305h2v45h-2zM207 305h2v45h-2zM240 305h2v45h-2zM246 305h2v45h-2zM251 305h2v45h-2zM257 305h2v45h-2zM314 305h2v45h-2zM320 305h2v45h-2zM65 350h2v21h-2zM72 342h2v29h-2zM83 349h2v22h-2zM98 350h2v21h-2zM109 350h2v21h-2zM117 350h2v21h-2zM180 342h2v29h-2zM191 350h2v21h-2zM206 350h2v21h-2zM213 342h2v29h-2zM228 327h2v44h-2zM235 312h2v59h-2zM239 350h2v21h-2zM247 350h2v21h-2zM250 350h2v21h-2zM258 350h2v21h-2zM313 350h2v21h-2zM321 350h2v21h-2zM40 371h27v2h-27zM72 371h13v2h-13zM91 350h2v23h-2zM98 371h13v2h-13zM117 371h65v2h-65zM191 371h17v2h-17zM213 371h17v2h-17zM235 371h6v2h-6zM247 371h5v2h-5zM258 371h57v2h-57zM321 371h239v2h-239zM303 416h22v2h-22z" fill="#0000aa"/></svg></body></html>
